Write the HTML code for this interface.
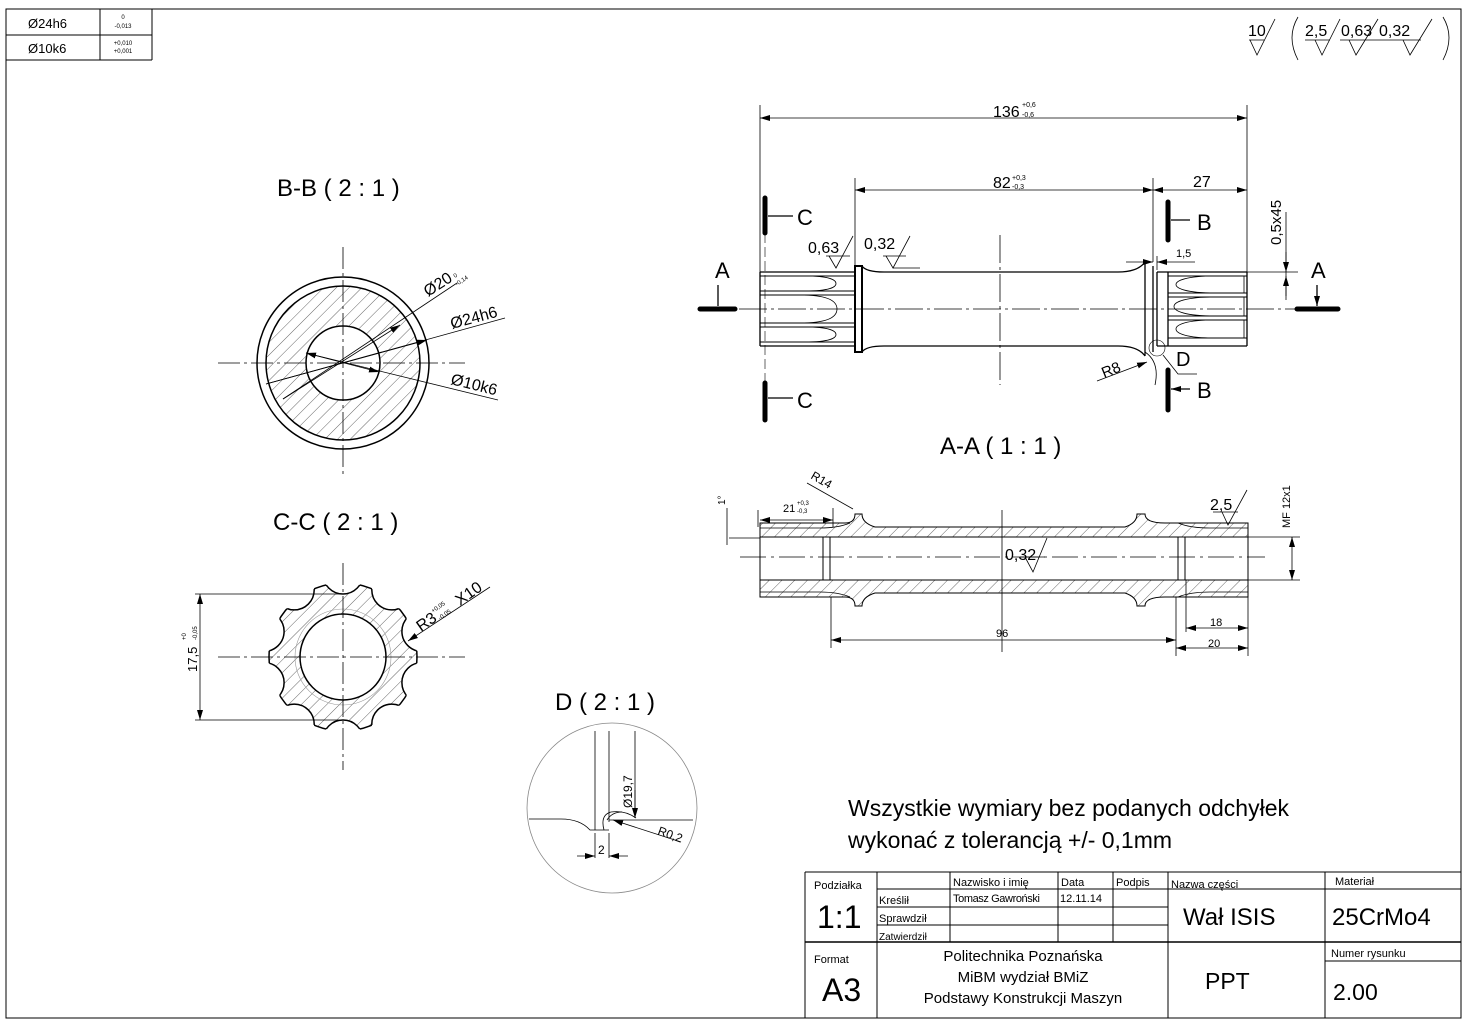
<!DOCTYPE html>
<html><head><meta charset="utf-8"><style>
html,body{margin:0;padding:0;background:#fff}
svg{display:block}
text{font-family:"Liberation Sans",sans-serif;fill:#000}
</style></head><body>
<svg width="1469" height="1029" viewBox="0 0 1469 1029" xmlns="http://www.w3.org/2000/svg">
<defs>
<pattern id="h" width="9" height="9" patternUnits="userSpaceOnUse" patternTransform="rotate(45)">
<line x1="0" y1="0" x2="0" y2="9" stroke="#000" stroke-width="0.6"/></pattern>
<marker id="ar" viewBox="0 0 10 6" refX="10" refY="3" markerWidth="10" markerHeight="6" orient="auto-start-reverse" markerUnits="userSpaceOnUse"><path d="M0,0 L10,3 L0,6z" fill="#000"/></marker>
<clipPath id="cc"><circle cx="343" cy="657" r="74"/></clipPath>
<clipPath id="cc2"><circle cx="343" cy="657" r="77"/></clipPath>
</defs>
<g fill="none" stroke="#000">
<rect x="6" y="9" width="1455" height="1009" stroke-width="1"/>
<path d="M6 35H152M100 9V60M152 9V60M6 60H152" stroke-width="1"/>
</g>
<text x="28" y="28" font-size="13">Ø24h6</text>
<text x="28" y="53" font-size="13">Ø10k6</text>
<text x="123" y="19" font-size="6" text-anchor="middle">0</text>
<text x="123" y="28" font-size="6" text-anchor="middle">-0,013</text>
<text x="123" y="45" font-size="6" text-anchor="middle">+0,010</text>
<text x="123" y="53" font-size="6" text-anchor="middle">+0,001</text>

<!-- roughness top right -->
<g fill="none" stroke="#000" stroke-width="0.8">
<path d="M1249 40H1264M1250 40L1257 55L1275 19"/>
<path d="M1298 17Q1286 37 1298 60M1443 17Q1455 37 1443 60"/>
<path d="M1305 40H1330M1315 40L1322 55L1340 19"/>
<path d="M1340 40H1378M1349 40L1356 55L1378 19"/>
<path d="M1378 40H1421M1403 40L1410 55L1432 19"/>
</g>
<text x="1248" y="36" font-size="16">10</text>
<text x="1305" y="36" font-size="16">2,5</text>
<text x="1341" y="36" font-size="16">0,63</text>
<text x="1379" y="36" font-size="16">0,32</text>

<!-- ===== main shaft view ===== -->
<g fill="none" stroke="#000" stroke-width="0.8">
<path d="M760 105V272M1247 105V272"/>
<path d="M760 118H1247" marker-start="url(#ar)" marker-end="url(#ar)"/>
<path d="M855 178V266M1153 178V262"/>
<path d="M855 190H1153" marker-start="url(#ar)" marker-end="url(#ar)"/>
<path d="M1153 190H1247" marker-start="url(#ar)" marker-end="url(#ar)"/>
<path d="M1286 212V300"/>
<path d="M1286 252V272" marker-end="url(#ar)"/>
<path d="M1286 296V276" marker-end="url(#ar)"/>
<path d="M1247 272H1298"/>
<path d="M1126 262H1153" marker-end="url(#ar)"/>
<path d="M1195 262H1157" marker-end="url(#ar)"/>
<path d="M1157 256V270"/>
</g>
<text x="993" y="117" font-size="16">136</text>
<text x="1022" y="107" font-size="7">+0,6</text>
<text x="1022" y="117" font-size="7">-0,6</text>
<text x="993" y="188" font-size="16">82</text>
<text x="1012" y="180" font-size="7">+0,3</text>
<text x="1012" y="189" font-size="7">-0,3</text>
<text x="1193" y="187" font-size="16">27</text>
<text x="1176" y="257" font-size="11">1,5</text>
<text x="1281" y="245" font-size="15" transform="rotate(-90 1281 245)">0,5x45</text>

<g fill="none" stroke="#000" stroke-width="1.3">
<path d="M760 272V346M760 272H855M760 346H855"/>
<rect x="855" y="266" width="7" height="86" stroke-width="2"/>
<path d="M760 276H855M760 291H855M760 295H855M760 323H855M760 327H855M760 342H855" stroke-width="0.9"/>
<path d="M805 276C830 276 836 280 836 283.5C836 287 830 291 805 291M800 295C830 295 837 302 837 309C837 316 830 323 800 323M805 327C830 327 836 331 836 334.5C836 338 830 342 805 342" stroke-width="0.8"/>
<path d="M862 266Q866 272 884 272H1118Q1138 272 1145 262M862 352Q866 346 884 346H1118Q1138 346 1145 356"/>
<path d="M1145 262V356M1153 266V352M1157 272V346M1168 272V346"/>
<path d="M1157 272H1247M1157 346H1247M1247 272V346"/>
<path d="M1168 276H1247M1168 293H1247M1168 297H1247M1168 316H1247M1168 320H1247M1168 338H1247" stroke-width="0.9"/>
<path d="M1215 276C1185 276 1176 281 1176 284.5C1176 288 1185 293 1215 293M1215 297C1185 297 1174 302 1174 306.5C1174 311 1185 316 1215 316M1215 320C1185 320 1176 325 1176 329C1176 333 1185 338 1215 338" stroke-width="0.8"/>
<path d="M1244 276V293M1244 297V316M1244 320V338" stroke-width="0.8"/>
</g>
<path d="M700 309H1340" stroke="#000" stroke-width="0.8" stroke-dasharray="28 4 3 4"/>
<path d="M1000 235V385" stroke="#000" stroke-width="0.8" stroke-dasharray="28 4 3 4"/>
<path d="M765 233V383" stroke="#000" stroke-width="0.6" stroke-dasharray="10 4"/>
<circle cx="1157" cy="348" r="8" fill="none" stroke="#000" stroke-width="0.6"/>
<path d="M1163 355L1178 374H1197" fill="none" stroke="#000" stroke-width="0.8"/>
<text x="1176" y="366" font-size="20">D</text>
<path d="M1097 381L1147 362" fill="none" stroke="#000" stroke-width="0.8" marker-end="url(#ar)"/>
<path d="M1145 352Q1160 362 1155 385" fill="none" stroke="#000" stroke-width="0.8"/>
<text x="1104" y="378" font-size="15" transform="rotate(-22 1104 378)">R8</text>
<g stroke="#000" fill="none">
<path d="M765 198V233M765 383V420M1168 202V240M1168 370V410" stroke-width="5" stroke-linecap="round"/>
<path d="M700 309H735M1297 309H1338" stroke-width="5" stroke-linecap="round"/>
<path d="M793 216H768M793 398H768M1190 220H1171M1190 389H1171" stroke-width="1.3" marker-end="url(#ar)"/>
<path d="M718 285V306M1317 285V306" stroke-width="1.3" marker-end="url(#ar)"/>
</g>
<text x="797" y="225" font-size="22">C</text>
<text x="797" y="408" font-size="22">C</text>
<text x="1197" y="230" font-size="22">B</text>
<text x="1197" y="398" font-size="22">B</text>
<text x="715" y="278" font-size="22">A</text>
<text x="1311" y="278" font-size="22">A</text>
<g fill="none" stroke="#000" stroke-width="0.8">
<path d="M826 256H850M829 256L836 268L853 236"/>
<path d="M883 256H906M886 256L893 268L910 236M893 268H920"/>
</g>
<text x="808" y="253" font-size="16">0,63</text>
<text x="864" y="249" font-size="16">0,32</text>

<!-- ===== A-A ===== -->
<text x="940" y="454" font-size="24">A-A ( 1 : 1 )</text>
<g stroke="#000">
<path d="M760 523H845Q855 523 855 514H862Q862 523 875 527H1125Q1137 523 1137 514H1145Q1145 523 1165 523H1248V537H1178V580H1248V597H1165Q1145 597 1145 606H1137Q1137 597 1125 593H875Q862 597 862 606H855Q855 597 845 597H760V580H830V537H760Z" fill="url(#h)" stroke-width="1"/>
<path d="M830 537H1178V580H830Z" fill="#fff" stroke-width="1"/>
<path d="M760 537H830V580H760Z M1178 537H1248V580H1178Z" fill="#fff" stroke-width="1"/>
<path d="M823 537V580M1185 537V580" fill="none" stroke-width="1"/>
<path d="M760 528H820Q838 528 850 523M760 592H820Q838 592 850 597M1248 528H1210Q1190 528 1178 523M1248 592H1210Q1190 592 1178 597" fill="none" stroke-width="0.8"/>
</g>
<path d="M740 557H1265" stroke="#000" stroke-width="0.8" stroke-dasharray="26 5 3 5"/>
<path d="M1002 510V652" stroke="#000" stroke-width="0.8"/>
<g fill="none" stroke="#000" stroke-width="0.8">
<path d="M831 597V648M1176 597V656M1186 580V632M1248 597V656"/>
<path d="M831 640H1176" marker-start="url(#ar)" marker-end="url(#ar)"/>
<path d="M1186 628H1248" marker-start="url(#ar)" marker-end="url(#ar)"/>
<path d="M1176 648H1248" marker-start="url(#ar)" marker-end="url(#ar)"/>
<path d="M758 527V510M833 527V508"/>
<path d="M760 520H833" marker-start="url(#ar)" marker-end="url(#ar)"/>
<path d="M727 538V508M727 528V545"/>
<path d="M729 538H760"/>
<path d="M1248 537H1300M1248 580H1300M1292 537V580" />
<path d="M1292 545V537" marker-end="url(#ar)"/><path d="M1292 572V580" marker-end="url(#ar)"/>
<path d="M807 483L853 509"/>
<path d="M1213 512H1238M1222 512L1228 525L1247 490"/>
<path d="M1025 557L1033 572L1047 538M1020 557H1045"/>
</g>
<text x="783" y="512" font-size="11">21</text>
<text x="797" y="505" font-size="6">+0,3</text>
<text x="797" y="513" font-size="6">-0,3</text>
<text x="810" y="478" font-size="12" transform="rotate(30 810 478)">R14</text>
<text x="725" y="505" font-size="10" transform="rotate(-90 725 505)">1°</text>
<text x="1210" y="510" font-size="16">2,5</text>
<text x="1005" y="560" font-size="16">0,32</text>
<text x="1290" y="528" font-size="11" transform="rotate(-90 1290 528)">MF 12x1</text>
<text x="996" y="637" font-size="11">96</text>
<text x="1210" y="626" font-size="11">18</text>
<text x="1208" y="647" font-size="11">20</text>

<!-- ===== B-B ===== -->
<text x="277" y="196" font-size="24">B-B ( 2 : 1 )</text>
<circle cx="343" cy="363" r="86" fill="#fff" stroke="#000" stroke-width="1.5"/>
<circle cx="343" cy="363" r="77" fill="url(#h)" stroke="#000" stroke-width="1.5"/>
<circle cx="343" cy="363" r="37" fill="#fff" stroke="#000" stroke-width="1.5"/>
<path d="M218 363H465M343 247V475" stroke="#000" stroke-width="0.8" stroke-dasharray="22 4 3 4"/>
<g fill="none" stroke="#000" stroke-width="0.8">
<path d="M283 399L457 283"/>
<path d="M400 325L283 399" marker-start="url(#ar)"/>
<path d="M266 384L505 318"/>
<path d="M427 340L266 384" marker-start="url(#ar)"/>
<path d="M306 353L498 400"/>
<path d="M306 353L379 372" marker-start="url(#ar)" marker-end="url(#ar)"/>
</g>
<text x="428" y="297" font-size="16" transform="rotate(-33 428 297)">Ø20</text>
<text x="455" y="278" font-size="6" transform="rotate(-33 455 278)">0</text>
<text x="457" y="286" font-size="6" transform="rotate(-33 457 286)">-0,14</text>
<text x="452" y="329" font-size="16" transform="rotate(-15 452 329)">Ø24h6</text>
<text x="450" y="384" font-size="16" transform="rotate(14 450 384)">Ø10k6</text>

<!-- ===== C-C ===== -->
<text x="273" y="530" font-size="24">C-C ( 2 : 1 )</text>
<circle cx="343" cy="657" r="74" fill="url(#h)" stroke="#000" stroke-width="1.5"/>
<g clip-path="url(#cc2)" fill="#fff" stroke="none">
<circle cx="343" cy="574" r="20"/><circle cx="391.8" cy="589.9" r="20"/><circle cx="421.9" cy="631.4" r="20"/><circle cx="421.9" cy="682.6" r="20"/><circle cx="391.8" cy="724.1" r="20"/><circle cx="343" cy="740" r="20"/><circle cx="294.2" cy="724.1" r="20"/><circle cx="264.1" cy="682.6" r="20"/><circle cx="264.1" cy="631.4" r="20"/><circle cx="294.2" cy="589.9" r="20"/>
</g>
<g clip-path="url(#cc)" fill="none" stroke="#000" stroke-width="1.5">
<circle cx="343" cy="574" r="20"/><circle cx="391.8" cy="589.9" r="20"/><circle cx="421.9" cy="631.4" r="20"/><circle cx="421.9" cy="682.6" r="20"/><circle cx="391.8" cy="724.1" r="20"/><circle cx="343" cy="740" r="20"/><circle cx="294.2" cy="724.1" r="20"/><circle cx="264.1" cy="682.6" r="20"/><circle cx="264.1" cy="631.4" r="20"/><circle cx="294.2" cy="589.9" r="20"/>
</g>
<circle cx="343" cy="657" r="48" fill="none" stroke="#999" stroke-width="0.6"/>
<circle cx="343" cy="657" r="43" fill="#fff" stroke="#000" stroke-width="1.5"/>
<path d="M218 657H465M343 563V770" stroke="#000" stroke-width="0.8" stroke-dasharray="22 4 3 4"/>
<g fill="none" stroke="#000" stroke-width="0.8">
<path d="M195 594H343M195 720H343"/>
<path d="M200 594V720" marker-start="url(#ar)" marker-end="url(#ar)"/>
<path d="M490 587L408 641" marker-end="url(#ar)"/>
</g>
<text x="197" y="672" font-size="13" transform="rotate(-90 197 672)">17,5</text>
<text x="186" y="640" font-size="6" transform="rotate(-90 186 640)">+0</text>
<text x="197" y="640" font-size="6" transform="rotate(-90 197 640)">-0,05</text>
<text x="421" y="632" font-size="16" transform="rotate(-35 421 632)">R3</text>
<text x="433" y="613" font-size="6" transform="rotate(-35 433 613)">+0,05</text>
<text x="440" y="620" font-size="6" transform="rotate(-35 440 620)">-0,05</text>
<text x="460" y="606" font-size="16" transform="rotate(-35 460 606)">X10</text>

<!-- ===== D ===== -->
<text x="555" y="710" font-size="24">D ( 2 : 1 )</text>
<circle cx="612" cy="808" r="85" fill="#fff" stroke="#888" stroke-width="0.8"/>
<g fill="none" stroke="#000" stroke-width="0.8">
<path d="M529 819H561Q580 819 590 830L595 830H609"/>
<path d="M595 731V830M609 731V822M635 731V818"/>
<path d="M609 820H693"/>
<path d="M604 830Q600 815 611 812Q625 810 636 818" />
<path d="M607 820Q612 812 622 812"/>
<path d="M635 790V818" marker-end="url(#ar)"/>
<path d="M681 842L613 820" marker-end="url(#ar)"/>
<path d="M595 833V858M609 833V858"/>
<path d="M577 856H595" marker-end="url(#ar)"/>
<path d="M628 856H609" marker-end="url(#ar)"/>
</g>
<text x="632" y="808" font-size="12" transform="rotate(-90 632 808)">Ø19,7</text>
<text x="657" y="834" font-size="12" transform="rotate(20 657 834)">R0,2</text>
<text x="598" y="854" font-size="12">2</text>

<text x="848" y="816" font-size="23">Wszystkie wymiary bez podanych odchyłek</text>
<text x="848" y="848" font-size="23">wykonać z tolerancją +/- 0,1mm</text>

<!-- ===== title block ===== -->
<g fill="none" stroke="#000" stroke-width="1">
<path d="M805 872H1461M805 872V1018M877 872V1018M950 872V942M1058 872V942M1113 872V942M1168 872V1018M1325 872V1018"/>
<path d="M877 889H1461M877 907H1168M877 925H1168M1325 961H1461"/>
<path d="M805 942H1461" stroke-width="1.5"/>
</g>
<text x="814" y="889" font-size="11">Podziałka</text>
<text x="817" y="928" font-size="32">1:1</text>
<text x="879" y="904" font-size="11">Kreślił</text>
<text x="879" y="922" font-size="11">Sprawdził</text>
<text x="879" y="940" font-size="10">Zatwierdził</text>
<text x="953" y="886" font-size="11">Nazwisko i imię</text>
<text x="1061" y="886" font-size="11">Data</text>
<text x="1116" y="886" font-size="11">Podpis</text>
<text x="1171" y="888" font-size="11">Nazwa części</text>
<text x="1335" y="885" font-size="11">Materiał</text>
<text x="953" y="902" font-size="11" letter-spacing="-0.4">Tomasz Gawroński</text>
<text x="1060" y="902" font-size="11">12.11.14</text>
<text x="1183" y="925" font-size="24">Wał ISIS</text>
<text x="1332" y="925" font-size="24">25CrMo4</text>
<text x="814" y="963" font-size="11">Format</text>
<text x="822" y="1001" font-size="32">A3</text>
<text x="1023" y="961" font-size="15" text-anchor="middle">Politechnika Poznańska</text>
<text x="1023" y="982" font-size="15" text-anchor="middle">MiBM wydział BMiZ</text>
<text x="1023" y="1003" font-size="15" text-anchor="middle">Podstawy Konstrukcji Maszyn</text>
<text x="1205" y="989" font-size="23">PPT</text>
<text x="1331" y="957" font-size="11">Numer rysunku</text>
<text x="1333" y="1000" font-size="23">2.00</text>
</svg>
</body></html>
